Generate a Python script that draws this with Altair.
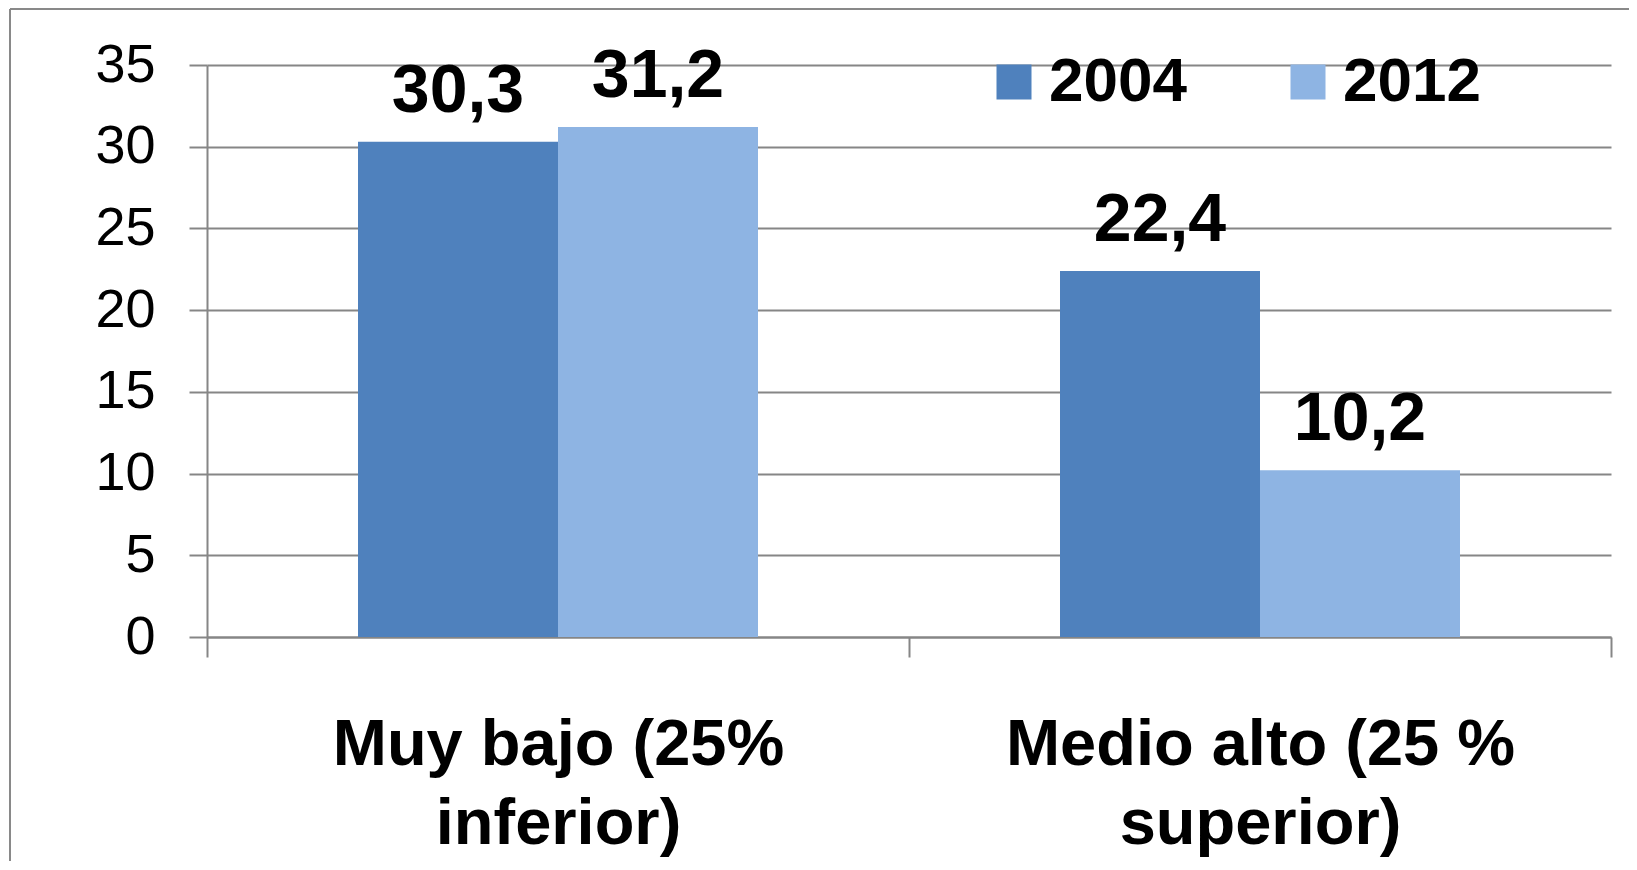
import altair as alt
import pandas as pd

categories = ["Muy bajo (25%\ninferior)", "Medio alto (25 %\nsuperior)"]
years = ["2004", "2012"]
values_2004 = [30.3, 22.4]
values_2012 = [31.2, 10.2]
y_ticks = [0, 5, 10, 15, 20, 25, 30, 35]
colors = ["#4F81BD", "#8EB4E3"]

rows = []
for i, c in enumerate(categories):
    rows.append({"cat": c, "year": years[0], "value": values_2004[i]})
    rows.append({"cat": c, "year": years[1], "value": values_2012[i]})
df = pd.DataFrame(rows)

W, H = 1404, 572
GRID = "#868686"
FONT = "Liberation Sans"

x_enc = alt.X(
    "cat:N", sort=categories,
    scale=alt.Scale(paddingInner=0, paddingOuter=0),
    axis=alt.Axis(
        title=None, labelAngle=0, labelExpr="split(datum.label, '\\n')",
        labelFontSize=65, labelFont=FONT, labelFontWeight="bold", labelColor="black",
        labelLineHeight=79, labelBaseline="top", labelPadding=56, labelLimit=0,
        labelOverlap=False, tickSize=20, tickBand="extent", tickColor=GRID, tickWidth=2,
        domainColor=GRID, domainWidth=2, grid=False,
    ),
)
y_enc = alt.Y(
    "value:Q",
    scale=alt.Scale(domain=[0, 35], nice=False, zero=True),
    axis=alt.Axis(
        title=None, values=y_ticks, labelFontSize=54, labelFont=FONT, labelColor="black",
        labelPadding=34, labelFlush=False, labelOverlap=False, tickSize=18, tickColor=GRID,
        tickWidth=2, domainColor=GRID, domainWidth=2, grid=True, gridColor=GRID, gridWidth=2,
    ),
)
xoff = alt.XOffset("year:N", sort=years, scale=alt.Scale(paddingInner=0, paddingOuter=0.755))

base = alt.Chart(df).encode(x=x_enc, y=y_enc, xOffset=xoff)

bars = base.mark_bar().encode(
    color=alt.Color(
        "year:N", sort=years, scale=alt.Scale(domain=years, range=colors),
        legend=alt.Legend(
            title=None, orient="none", legendX=776, legendY=-14, direction="horizontal",
            symbolType="square", symbolSize=1225, symbolStrokeWidth=0, symbolOpacity=1,
            labelFontSize=62, labelFont=FONT, labelFontWeight="bold", labelColor="black",
            labelOffset=4, columnPadding=90, padding=0, labelLimit=0,
        ),
    )
)

labels = base.transform_calculate(
    lbl="replace(format(datum.value, '.1f'), '.', ',')"
).mark_text(
    fontSize=68, font=FONT, fontWeight="bold", baseline="alphabetic", dy=-30, color="black"
).encode(text="lbl:N")

border_df = pd.DataFrame({"k": [0]})
border_top = alt.Chart(border_df).mark_rule(color="#898989", strokeWidth=2).encode(
    x=alt.value(-197), x2=alt.value(1500), y=alt.value(-56)
)
border_left = alt.Chart(border_df).mark_rule(color="#898989", strokeWidth=2).encode(
    x=alt.value(-197), y=alt.value(-56), y2=alt.value(900)
)

chart = alt.layer(border_top, border_left, bars, labels).properties(
    width=W, height=H,
    autosize=alt.AutoSizeParams(type="none"),
    padding={"left": 199, "top": 57, "right": 18, "bottom": 224},
    background="white",
).configure_view(stroke=None)

chart.save("out.html", embed_options={"renderer": "svg", "actions": False})
